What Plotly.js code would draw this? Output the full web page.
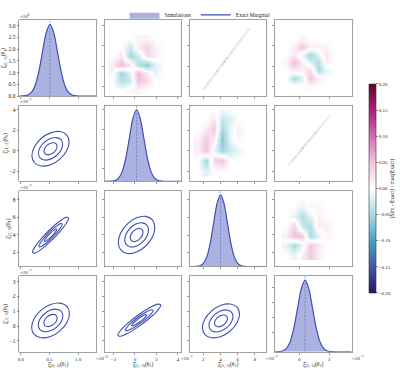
<!DOCTYPE html>
<html><head><meta charset="utf-8">
<script src="https://cdn.plot.ly/plotly-3.0.1.min.js"></script>
<style>html,body{margin:0;padding:0;background:#fff}#chart{width:400px;height:368px}</style>
</head><body><div id="chart"></div>
<script>
// ---------- labels / ticks ----------
const varLabels = [
  "ξ\u0302<sub>(0,−3)</sub>(θ<sub>1</sub>)",
  "ξ\u0302<sub>(1,−3)</sub>(θ<sub>1</sub>)",
  "ξ\u0302<sub>(2,−3)</sub>(θ<sub>1</sub>)",
  "ξ\u0302<sub>(3,−3)</sub>(θ<sub>1</sub>)"
];
const xTickVals = [[0,0.5,1.0],[-2,0,2,4],[2,4,6,8],[0,2]];
const xTickText = [["0.0","0.5","1.0"],["−2","0","2","4"],["2","4","6","8"],["0","2"]];
const yTickVals = [[0,0.5,1,1.5,2,2.5,3],[-2,0,2,4],[2,4,6,8],[-1,0,1,2,3]];
const yTickText = [["0.0","0.5","1.0","1.5","2.0","2.5","3.0"],["−2","0","2","4"],["2","4","6","8"],["−1","0","1","2","3"]];
const xExponents = ["×10<sup>−6</sup>","×10<sup>−7</sup>","×10<sup>−7</sup>","×10<sup>−7</sup>"];
const yExponents = ["×10<sup>6</sup>","×10<sup>−7</sup>","×10<sup>−7</sup>","×10<sup>−7</sup>"];
const cbTickVals = [-0.2,-0.15,-0.1,-0.05,0,0.05,0.1,0.15,0.2];
const cbTickText = ["−0.20","−0.15","−0.10","−0.05","0.00","0.05","0.10","0.15","0.20"];

// ---------- marginals (diagonal) ----------
const means = [0.51, 0.15, 4.0, 0.38];
const m1x = [-0.025,0.044,0.111,0.178,0.244,0.311,0.377,0.444,0.51,0.577,0.643,0.710,0.776,0.843,0.909,0.976,1.042,1.313];
const m1y = [0.001,0.007,0.034,0.134,0.413,0.990,1.850,2.692,3.05,2.692,1.850,0.990,0.413,0.134,0.034,0.007,0.001,0];
const m2x = [-2.83,-2.195,-1.86,-1.525,-1.19,-0.855,-0.52,-0.185,0.15,0.485,0.82,1.155,1.49,1.825,2.16,2.495,2.83,4.30];
const m2y = [0,0.002,0.011,0.044,0.135,0.325,0.607,0.883,1,0.883,0.607,0.325,0.135,0.044,0.011,0.002,0.0003,0];
const m3x = [0.43,0.8,1.2,1.6,2.0,2.4,2.8,3.2,3.6,4.0,4.4,4.8,5.2,5.6,6.0,6.4,6.8,7.2,9.33];
const m3y = [0,0.0003,0.002,0.011,0.044,0.135,0.325,0.607,0.883,1,0.883,0.607,0.325,0.135,0.044,0.011,0.002,0.0003,0];
const m4x = [-1.62,-1.37,-1.12,-0.87,-0.62,-0.37,-0.12,0.13,0.38,0.63,0.88,1.13,1.38,1.63,1.88,2.13,2.38,3.49];
const m4y = [0.0003,0.002,0.011,0.044,0.135,0.325,0.607,0.883,1,0.883,0.607,0.325,0.135,0.044,0.011,0.002,0.0003,0];

// ---------- contour levels (lower triangle) ----------
const P21_outer_x = [0.845,0.801,0.683,0.52,0.357,0.239,0.195,0.239,0.357,0.52,0.683,0.801,0.845];
const P21_outer_y = [0.872,1.552,1.870,1.741,1.198,0.388,-0.472,-1.152,-1.470,-1.341,-0.798,0.012,0.872];
const P21_mid_x = [0.731,0.703,0.626,0.52,0.414,0.337,0.309,0.337,0.414,0.52,0.626,0.703,0.731];
const P21_mid_y = [0.637,1.079,1.285,1.201,0.849,0.322,-0.237,-0.679,-0.885,-0.801,-0.449,0.078,0.637];
const P21_inner_x = [0.634,0.619,0.577,0.52,0.463,0.421,0.406,0.421,0.463,0.52,0.577,0.619,0.634];
const P21_inner_y = [0.435,0.673,0.784,0.739,0.549,0.266,-0.035,-0.273,-0.384,-0.339,-0.149,0.134,0.435];

const P31_outer_x = [0.834,0.792,0.677,0.52,0.363,0.248,0.206,0.248,0.363,0.52,0.677,0.792,0.834];
const P31_outer_y = [5.906,5.999,5.548,4.672,3.609,2.645,2.034,1.941,2.392,3.268,4.331,5.295,5.906];
const P31_mid_x = [0.724,0.697,0.622,0.52,0.418,0.343,0.316,0.343,0.418,0.52,0.622,0.697,0.724];
const P31_mid_y = [5.229,5.289,4.996,4.427,3.736,3.109,2.711,2.651,2.944,3.513,4.204,4.831,5.229];
const P31_inner_x = [0.630,0.615,0.575,0.52,0.465,0.425,0.410,0.425,0.465,0.52,0.575,0.615,0.630];
const P31_inner_y = [4.648,4.680,4.522,4.216,3.844,3.506,3.292,3.260,3.418,3.724,4.096,4.434,4.648];

const P41_outer_x = [0.85,0.806,0.685,0.52,0.355,0.234,0.19,0.234,0.355,0.52,0.685,0.806,0.85];
const P41_outer_y = [0.852,1.330,1.553,1.462,1.081,0.512,-0.092,-0.570,-0.793,-0.702,-0.321,0.248,0.852];
const P41_mid_x = [0.735,0.706,0.627,0.52,0.413,0.334,0.305,0.334,0.413,0.52,0.627,0.706,0.735];
const P41_mid_y = [0.687,0.997,1.142,1.083,0.836,0.466,0.073,-0.237,-0.382,-0.323,-0.076,0.294,0.687];
const P41_inner_x = [0.636,0.620,0.578,0.52,0.462,0.420,0.404,0.420,0.462,0.52,0.578,0.620,0.636];
const P41_inner_y = [0.545,0.712,0.791,0.759,0.625,0.426,0.215,0.048,-0.031,0.001,0.135,0.334,0.545];

const P32_outer_x = [1.85,1.622,1.0,0.15,-0.7,-1.322,-1.55,-1.322,-0.7,0.15,1.0,1.622,1.85];
const P32_outer_y = [4.848,5.707,6.107,5.944,5.259,4.237,3.152,2.293,1.893,2.056,2.741,3.763,4.848];
const P32_mid_x = [1.255,1.107,0.703,0.15,-0.403,-0.807,-0.955,-0.807,-0.403,0.15,0.703,1.107,1.255];
const P32_mid_y = [4.551,5.109,5.370,5.264,4.819,4.154,3.449,2.891,2.630,2.736,3.181,3.846,4.551];
const P32_inner_x = [0.745,0.665,0.448,0.15,-0.148,-0.365,-0.445,-0.365,-0.148,0.15,0.448,0.665,0.745];
const P32_inner_y = [4.297,4.597,4.738,4.680,4.441,4.083,3.703,3.403,3.262,3.320,3.559,3.917,4.297];

const P42_outer_x = [2.4,2.132,1.4,0.4,-0.6,-1.332,-1.6,-1.332,-0.6,0.4,1.4,2.132,2.4];
const P42_outer_y = [1.423,1.488,1.261,0.805,0.238,-0.284,-0.623,-0.688,-0.461,-0.005,0.562,1.084,1.423];
const P42_mid_x = [1.7,1.526,1.05,0.4,-0.25,-0.726,-0.9,-0.726,-0.25,0.4,1.05,1.526,1.7];
const P42_mid_y = [1.065,1.107,0.960,0.663,0.295,-0.045,-0.265,-0.307,-0.160,0.137,0.505,0.845,1.065];
const P42_inner_x = [1.1,1.006,0.75,0.4,0.05,-0.206,-0.3,-0.206,0.05,0.4,0.75,1.006,1.1];
const P42_inner_y = [0.758,0.781,0.701,0.542,0.343,0.161,0.042,0.019,0.099,0.258,0.457,0.639,0.758];

const P43_outer_x = [6.2,5.912,5.125,4.05,2.975,2.188,1.9,2.188,2.975,4.05,5.125,5.912,6.2];
const P43_outer_y = [0.81,1.276,1.493,1.405,1.033,0.479,-0.11,-0.576,-0.793,-0.705,-0.333,0.221,0.81];
const P43_mid_x = [5.448,5.260,4.749,4.05,3.351,2.840,2.652,2.840,3.351,4.05,4.749,5.260,5.448];
const P43_mid_y = [0.649,0.952,1.093,1.036,0.794,0.434,0.051,-0.252,-0.393,-0.336,-0.094,0.266,0.649];
const P43_inner_x = [4.803,4.702,4.426,4.05,3.674,3.398,3.297,3.398,3.674,4.05,4.426,4.702,4.803];
const P43_inner_y = [0.511,0.674,0.750,0.719,0.589,0.395,0.189,0.026,-0.050,-0.019,0.111,0.305,0.511];

// ---------- residual maps (upper triangle) ----------
const H12_x = [-2.1,-1.3,-0.5,0.3,1.1,1.9,2.7];
const H12_y = [0.09,0.24,0.38,0.53,0.68,0.83,0.98];
const H12_z = [
  [0,0,0.01,0.01,0,0,0],
  [0,-0.045,-0.03,0.05,0.03,0,0],
  [0.01,-0.055,-0.015,0.055,0.015,-0.015,0],
  [0.015,0.055,0.02,-0.045,-0.065,-0.02,0],
  [0,0.02,-0.055,-0.03,0.03,0.015,0],
  [0,0,-0.035,0.015,0.04,0.01,0],
  [0,0,0,0.01,0.01,0,0]];
const H14_x = [-0.89,-0.36,0.18,0.71,1.24,1.78,2.31];
const H14_y = [0.16,0.29,0.43,0.57,0.70,0.84,0.98];
const H14_z = [
  [0,0,0,0.01,0,0,0],
  [0,-0.05,-0.02,0.05,0.015,0,0],
  [0,0.02,0.015,0.03,-0.05,-0.015,0],
  [0.01,0.055,0.015,-0.02,-0.045,0.015,0],
  [0,0.02,-0.015,-0.055,-0.02,0.02,0],
  [0,0.015,0.05,0.01,0.015,0.01,0],
  [0,0,0.01,0,0,0,0]];
const H23_x = [1.38,2.31,3.24,4.17,5.09,6.02,6.95];
const H23_y = [-2.0,-0.96,0.07,1.11,2.14,3.18,4.21];
const H23_z = [
  [0,-0.02,0,0,0,0,0],
  [0,-0.055,0.035,0.05,0,0,0],
  [0.015,0.05,-0.015,-0.055,-0.03,-0.015,0],
  [0.01,0.045,0.015,-0.07,-0.015,0.01,0],
  [0,0.015,0.045,-0.05,-0.015,0.015,0],
  [0,0,0.02,-0.035,-0.02,0,0],
  [0,0,0,0,0,0,0]];
const H34_x = [-0.89,-0.36,0.18,0.71,1.24,1.78,2.31];
const H34_y = [1.70,2.81,3.91,5.02,6.12,7.23,8.33];
const H34_z = [
  [0,-0.015,0.015,0.045,0.015,0,0],
  [-0.015,-0.05,-0.015,0.045,0.02,0,0],
  [0.015,0.05,0.045,-0.05,-0.02,0.01,0],
  [0,0.035,-0.035,-0.045,0.015,0.015,0],
  [0,-0.015,-0.045,-0.015,0.01,0,0],
  [0,0,-0.015,0.01,0.01,0,0],
  [0,0,0,0,0,0,0]];
// narrow residual streaks (highly correlated pairs)
const S13_x = [2.00,2.27,2.54,2.81,3.08,3.35,3.62,3.89,4.16,4.43,4.71,4.98,5.25,5.52,5.79,6.06,6.33,6.60,6.87,7.14,7.41];
const S13_y = [0.09,0.15,0.20,0.25,0.31,0.36,0.42,0.47,0.53,0.58,0.64,0.69,0.74,0.80,0.85,0.91,0.96,1.02,1.07,1.12,1.18];
const S13_c = [-0.01,-0.02,-0.03,-0.04,0.02,0.04,0.05,0.02,-0.05,-0.07,-0.05,0.02,0.05,0.04,0.02,-0.03,-0.03,-0.02,0.01,0.01,0.0];
const S24_x = [-0.74,-0.60,-0.46,-0.32,-0.18,-0.04,0.10,0.23,0.37,0.51,0.65,0.79,0.93,1.07,1.21,1.35,1.49,1.63,1.76,1.90,2.04];
const S24_y = [-1.43,-1.19,-0.95,-0.70,-0.46,-0.22,0.03,0.27,0.51,0.76,1.00,1.24,1.49,1.73,1.97,2.22,2.46,2.70,2.95,3.19,3.43];
const S24_c = [0.0,0.02,0.03,0.04,0.02,-0.03,-0.05,-0.07,-0.04,0.03,0.05,0.04,-0.03,-0.05,-0.03,0.02,0.02,0.01,-0.01,0.0,0.0];

// ---------- layout geometry ----------
const colDom = [[0.0483,0.2399],[0.2614,0.4530],[0.4745,0.6661],[0.6876,0.8793]];
const rowDom = [[0.7595,0.9715],[0.5215,0.7334],[0.2834,0.4954],[0.0454,0.2573]];
const colRange = [[-0.025,1.313],[-2.83,4.30],[0.43,9.33],[-1.62,3.49]];
const rowRange = [[-0.025,1.313],[-2.95,4.40],[0.41,9.03],[-1.74,3.40]];
const diagRange = [[0,3.23],[0,1.06],[0,1.06],[0,1.06]];
const diagTicks = [null,[0.18,0.45,0.72,1.01],[0.2,0.44,0.69,0.93],[0.27,0.48,0.69,0.90]];
const row1UpperTicks = [0.14,0.5,0.86,1.22];

const BLUE = '#3f4fb5';
const FILL = 'rgba(70,85,185,0.45)';
const FONT = 'Liberation Serif, DejaVu Serif, serif';
const idx = (r,c) => r*4 + c + 1;
const ax = n => (n === 1 ? '' : String(n));

const traces = [];
const mxs = [m1x,m2x,m3x,m4x], mys = [m1y,m2y,m3y,m4y];
for (let i = 0; i < 4; i++) {
  const n = idx(i,i);
  traces.push({type:'scatter', x:mxs[i], y:mys[i], mode:'lines', fill:'tozeroy', fillcolor:FILL,
    line:{width:0, shape:'spline', smoothing:0.8}, name:'Simulations', legendgroup:'sim',
    showlegend: i===0, hoverinfo:'skip', xaxis:'x'+ax(n), yaxis:'y'+ax(n)});
}
for (let i = 0; i < 4; i++) {
  const n = idx(i,i);
  traces.push({type:'scatter', x:mxs[i], y:mys[i], mode:'lines',
    line:{width:1.2, color:BLUE, shape:'spline', smoothing:0.8}, name:'Exact Marginal', legendgroup:'ex',
    showlegend: i===0, hoverinfo:'skip', xaxis:'x'+ax(n), yaxis:'y'+ax(n)});
  traces.push({type:'scatter', x:[means[i],means[i]], y:[0,diagRange[i][1]], mode:'lines',
    line:{width:0.6, color:'#5566c4', dash:'2px,1.5px'}, showlegend:false, hoverinfo:'skip',
    xaxis:'x'+ax(n), yaxis:'y'+ax(n)});
}
const contourSets = [
  [1,0,[P21_outer_x,P21_mid_x,P21_inner_x],[P21_outer_y,P21_mid_y,P21_inner_y]],
  [2,0,[P31_outer_x,P31_mid_x,P31_inner_x],[P31_outer_y,P31_mid_y,P31_inner_y]],
  [3,0,[P41_outer_x,P41_mid_x,P41_inner_x],[P41_outer_y,P41_mid_y,P41_inner_y]],
  [2,1,[P32_outer_x,P32_mid_x,P32_inner_x],[P32_outer_y,P32_mid_y,P32_inner_y]],
  [3,1,[P42_outer_x,P42_mid_x,P42_inner_x],[P42_outer_y,P42_mid_y,P42_inner_y]],
  [3,2,[P43_outer_x,P43_mid_x,P43_inner_x],[P43_outer_y,P43_mid_y,P43_inner_y]]
];
contourSets.forEach(([r,c,xs,ys]) => {
  const n = idx(r,c);
  for (let k = 0; k < 3; k++) {
    traces.push({type:'scatter', x:xs[k], y:ys[k], mode:'lines',
      line:{width:1.1, color:BLUE, shape:'spline', smoothing:1}, showlegend:false, hoverinfo:'skip',
      xaxis:'x'+ax(n), yaxis:'y'+ax(n)});
  }
});
const heatSets = [[0,1,H12_x,H12_y,H12_z],[0,3,H14_x,H14_y,H14_z],[1,2,H23_x,H23_y,H23_z],[2,3,H34_x,H34_y,H34_z]];
heatSets.forEach(([r,c,x,y,z]) => {
  const n = idx(r,c);
  traces.push({type:'heatmap', x:x, y:y, z:z, zsmooth:'best', coloraxis:'coloraxis',
    hoverinfo:'skip', xaxis:'x'+ax(n), yaxis:'y'+ax(n)});
});
const streakSets = [[0,2,S13_x,S13_y,S13_c],[1,3,S24_x,S24_y,S24_c]];
streakSets.forEach(([r,c,x,y,col]) => {
  const n = idx(r,c);
  traces.push({type:'scatter', x:x, y:y, mode:'lines', line:{width:2.2, color:'rgba(205,215,235,0.55)'},
    showlegend:false, hoverinfo:'skip', xaxis:'x'+ax(n), yaxis:'y'+ax(n)});
  traces.push({type:'scatter', x:x, y:y, mode:'markers',
    marker:{size:2.6, color:col, coloraxis:'coloraxis', opacity:0.55, line:{width:0}},
    showlegend:false, hoverinfo:'skip', xaxis:'x'+ax(n), yaxis:'y'+ax(n)});
});

const layout = {
  width:400, height:368, margin:{l:0,r:0,t:0,b:0,pad:0},
  paper_bgcolor:'#fff', plot_bgcolor:'#fff',
  font:{family:FONT, size:6, color:'#222'},
  showlegend:true,
  legend:{orientation:'h', x:0.5, xanchor:'center', y:1.027, yanchor:'top',
    font:{family:FONT, size:5.5, color:'#222'}, itemwidth:30, bgcolor:'rgba(0,0,0,0)', borderwidth:0},
  coloraxis:{cmin:-0.2, cmax:0.2,
    colorscale:[[0,'#2c1160'],[0.125,'#3d5aa8'],[0.25,'#4aa0c6'],[0.375,'#aadbe2'],[0.5,'#ffffff'],
      [0.625,'#f1c3de'],[0.75,'#d56ab2'],[0.875,'#b01f79'],[1,'#650026']],
    colorbar:{x:0.9225, xanchor:'left', y:0.5014, yanchor:'middle', len:0.584, lenmode:'fraction',
      thickness:7, thicknessmode:'pixels', xpad:0, ypad:0, outlinewidth:0.6, outlinecolor:'#333',
      tickvals:cbTickVals, ticktext:cbTickText, ticks:'outside', ticklen:2, tickwidth:0.6,
      tickfont:{family:FONT, size:5, color:'#222'}}},
  annotations:[]
};

for (let r = 0; r < 4; r++) {
  for (let c = 0; c < 4; c++) {
    const n = idx(r,c);
    const common = {showline:true, mirror:true, linecolor:'#8a8a8a', linewidth:0.8, ticks:'outside',
      ticklen:2, tickwidth:0.6, tickcolor:'#555', showgrid:false, zeroline:false, fixedrange:true,
      tickfont:{family:FONT, size:5.5, color:'#222'}};
    const xa = Object.assign({}, common, {domain:colDom[c], anchor:'y'+ax(n), range:colRange[c],
      tickmode:'array', tickvals:xTickVals[c], ticktext:xTickText[c], showticklabels:r===3,
      tickfont:{family:FONT, size:5, color:'#222'}});
    let yvals, ytext, yrange;
    if (r === c) {
      yrange = diagRange[r];
      yvals = r === 0 ? yTickVals[0] : diagTicks[r];
      ytext = r === 0 ? yTickText[0] : null;
    } else {
      yrange = rowRange[r];
      yvals = (r === 0) ? row1UpperTicks : yTickVals[r];
      ytext = (r === 0) ? null : yTickText[r];
    }
    const ya = Object.assign({}, common, {domain:rowDom[r], anchor:'x'+ax(n), range:yrange,
      tickmode:'array', tickvals:yvals, showticklabels:c===0});
    if (ytext) ya.ticktext = ytext;
    if (c === 0) ya.title = {text:varLabels[r], font:{family:FONT, size:5.5, color:'#222'}, standoff:1};
    layout['xaxis'+ax(n)] = xa;
    layout['yaxis'+ax(n)] = ya;
  }
}
// x-axis titles of the bottom row
for (let c = 0; c < 4; c++) {
  layout.annotations.push({xref:'paper', yref:'paper', x:(colDom[c][0]+colDom[c][1])/2, y:0, xanchor:'center', yanchor:'bottom',
    text:varLabels[c], showarrow:false, font:{family:FONT, size:5.5, color:'#222'}, yshift:-2.5});
}
for (let r = 0; r < 4; r++) {
  layout.annotations.push({xref:'paper', yref:'paper', x:colDom[0][0], y:rowDom[r][1], xanchor:'left', yanchor:'bottom',
    text:yExponents[r], showarrow:false, font:{family:FONT, size:5, color:'#222'}, xshift:-1, yshift:-1});
}
for (let c = 0; c < 4; c++) {
  layout.annotations.push({xref:'paper', yref:'paper', x:colDom[c][1], y:0.027, xanchor:'left', yanchor:'middle',
    text:xExponents[c], showarrow:false, font:{family:FONT, size:5, color:'#222'}, xshift:-2});
}
layout.annotations.push({xref:'paper', yref:'paper', x:0.982, y:0.5014, xanchor:'center', yanchor:'middle',
  text:'(Sim - Exact) / max(Exact)', textangle:-90, showarrow:false, font:{family:FONT, size:5.5, color:'#222'}});

Plotly.newPlot('chart', traces, layout, {staticPlot:true, displayModeBar:false});
</script>
</body></html>
